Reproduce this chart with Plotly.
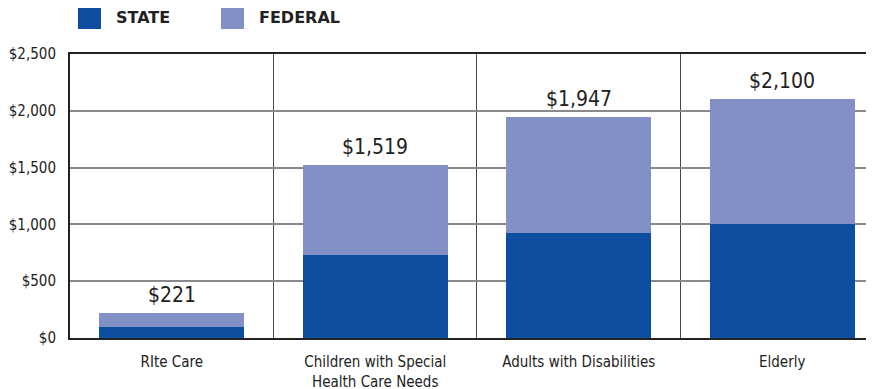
import plotly.graph_objects as go

categories = ["RIte Care", "Children with Special<br>Health Care Needs", "Adults with Disabilities", "Elderly"]
state_values = [100, 730, 920, 1000]
federal_values = [121, 789, 1027, 1100]
y_ticks = [0, 500, 1000, 1500, 2000, 2500]

totals = [s + f for s, f in zip(state_values, federal_values)]
total_labels = ["${:,}".format(t) for t in totals]
y_tick_text = ["${:,}".format(v) for v in y_ticks]

STATE_C = "#0D4EA0"
FED_C = "#8390C5"
TXT = "#222222"
NARROW = "DejaVu Sans Condensed, Liberation Sans Narrow, sans-serif"

fig = go.Figure()
fig.add_trace(go.Bar(x=categories, y=state_values, name="STATE", marker_color=STATE_C,
                     marker_line_width=0, width=0.713, showlegend=False))
fig.add_trace(go.Bar(x=categories, y=federal_values, name="FEDERAL", marker_color=FED_C,
                     marker_line_width=0, width=0.713, showlegend=False))

for cat, tot, lab in zip(categories, totals, total_labels):
    fig.add_annotation(x=cat, y=tot, text=lab, showarrow=False, yanchor="bottom",
                       yshift=4, font=dict(family=NARROW, size=21, color=TXT))

# page body has an 8px margin: figure placed at (8, 8)
fig.update_layout(
    width=866, height=381,
    margin=dict(l=62, r=0, t=46, b=51, autoexpand=False),
    barmode="stack",
    plot_bgcolor="white", paper_bgcolor="white",
)
fig.update_xaxes(
    range=[-0.5, 3.451],
    tickson="boundaries", showgrid=True, gridcolor="#4a4a4a", gridwidth=1,
    ticks="", ticklabelstandoff=9,
    showline=True, linecolor="#222222", linewidth=2, mirror=True,
    tickfont=dict(family=NARROW, size=15, color=TXT),
)
fig.update_yaxes(
    range=[0, 2500], tickvals=y_ticks, ticktext=y_tick_text,
    showgrid=True, gridcolor="#8a8a8a", gridwidth=1.5, zeroline=False,
    showline=True, linecolor="#222222", linewidth=2,
    ticks="outside", ticklen=9, tickcolor="white",
    tickfont=dict(family=NARROW, size=15, color=TXT),
)

def px_x(x):
    return (x - 70) / 804.0

def px_y(y):
    return (338 - y) / 284.0

legend_items = [("STATE", STATE_C, 78), ("FEDERAL", FED_C, 221)]
for label, color, x0 in legend_items:
    fig.add_shape(type="rect", xref="paper", yref="paper",
                  x0=px_x(x0), x1=px_x(x0 + 23), y0=px_y(29), y1=px_y(6),
                  fillcolor=color, line_width=0)
    fig.add_annotation(xref="paper", yref="paper", x=px_x(x0 + 36), y=px_y(17.5),
                       text="<b>" + label + "</b>", showarrow=False, xanchor="left", yanchor="middle",
                       font=dict(family="DejaVu Sans, sans-serif", size=16, color=TXT))

fig.write_html("out.html")
